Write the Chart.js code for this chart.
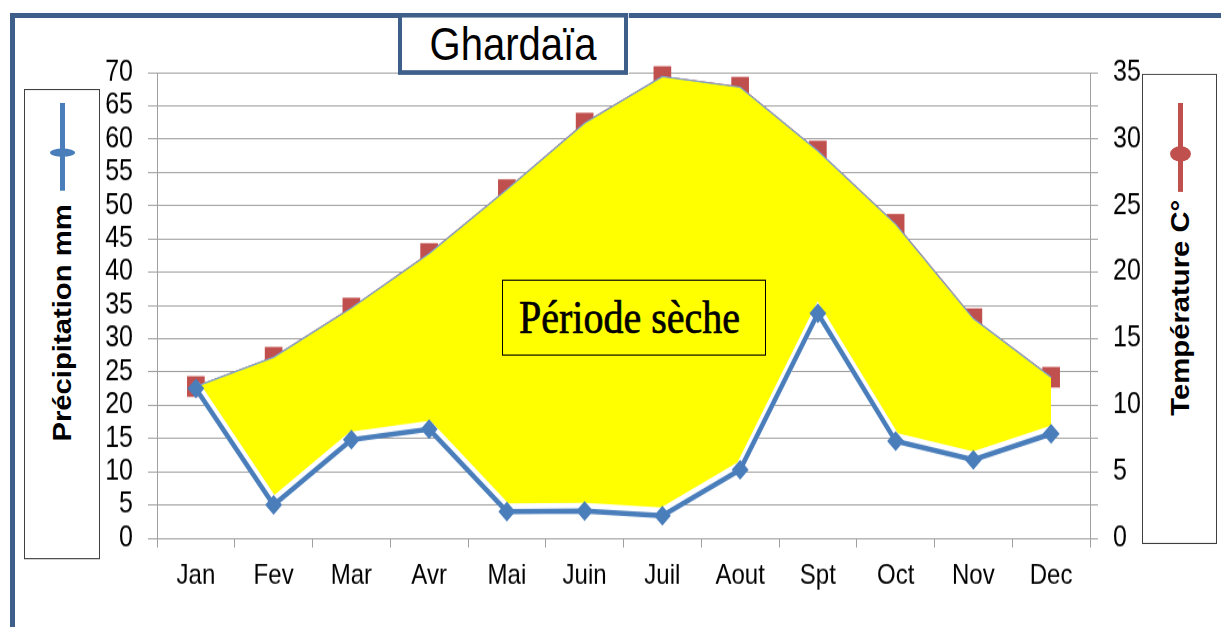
<!DOCTYPE html>
<html><head><meta charset="utf-8">
<script src="https://cdn.jsdelivr.net/npm/chart.js@4"></script>
<style>
html,body{margin:0;padding:0;background:#fff;overflow:hidden;width:1221px;height:627px;}
#frame{position:absolute;left:10px;top:13px;width:2000px;height:2000px;border-left:5px solid #3e5f8a;border-top:5px solid #3e5f8a;box-sizing:border-box;}
#stage{position:absolute;left:0;top:0;width:1221px;height:536px;transform:scaleY(1.17);transform-origin:0 0;}
#stage canvas{position:absolute;left:0;top:0;}
.abs{position:absolute;box-sizing:border-box;}
#title{left:398px;top:11px;width:230px;height:53px;border:4px solid #3e5f8a;background:#fff;font:40px "Liberation Sans",Arial,sans-serif;color:#000;display:flex;align-items:center;justify-content:center;}
.legend{background:#fff;border:1px solid #404040;}
.vtext{position:absolute;white-space:nowrap;font:bold 25px "Liberation Sans",Arial,sans-serif;color:#000;transform:translate(-50%,-50%) rotate(-90deg);}
#dry{left:502px;top:238.5px;width:264px;height:65px;border:1px solid #000;background:#ffff00;font:40px "Liberation Serif","Times New Roman",serif;-webkit-text-stroke:0.6px #000;color:#000;display:flex;align-items:center;justify-content:center;padding-right:9px;}
</style>
</head><body>
<div id="frame"></div>
<div id="stage">
  <canvas id="c" width="1221" height="536"></canvas>
  <div id="title" class="abs">Ghardaïa</div>
  <div class="abs legend" style="left:24px;top:76px;width:76px;height:402px;"></div>
  <div class="abs" style="left:60px;top:88px;width:4.5px;height:75px;background:#4a7ebb;"></div>
  <div class="abs" style="left:49.5px;top:126.6px;width:25px;height:7px;border-radius:50%;background:#4a7ebb;"></div>
  <div class="vtext" style="left:62px;top:276px;">Précipitation mm</div>
  <div class="abs legend" style="left:1142px;top:63px;width:75px;height:402px;"></div>
  <div class="abs" style="left:1177.5px;top:88px;width:5px;height:76px;background:#c0504d;"></div>
  <div class="abs" style="left:1169.5px;top:124.6px;width:21px;height:13px;border-radius:50%;background:#c0504d;"></div>
  <div class="vtext" style="left:1180px;top:263px;">Température C°</div>
  <div id="dry" class="abs">Période sèche</div>
</div>
<script>
const months = ['Jan','Fev','Mar','Avr','Mai','Juin','Juil','Aout','Spt','Oct','Nov','Dec'];
const precipitation = [22.5, 5, 14.8, 16.4, 4, 4.1, 3.4, 10.3, 33.8, 14.6, 11.8, 15.7];
const temperature = [11.4, 13.6, 17.3, 21.4, 26.2, 31.2, 34.7, 33.9, 29.1, 23.6, 16.5, 12.1];
const precipAxis = {min: 0, max: 70, step: 5};
const tempAxis = {min: 0, max: 35, step: 5};

const GRID = '#a0a0a0';
const FONT = '"Liberation Sans", Arial, sans-serif';

// shifts the white halo slightly upward so the gap sits only above the precipitation line
const haloShift = {
  id: 'haloShift',
  beforeDatasetDraw(chart, args) {
    if (args.index === 2) { chart.ctx.save(); chart.ctx.translate(0, -3); }
  },
  afterDatasetDraw(chart, args) {
    if (args.index === 2) { chart.ctx.restore(); }
  }
};

new Chart(document.getElementById('c'), {
  type: 'line',
  data: {
    labels: months,
    datasets: [
      {label: 'Température C°', data: temperature, yAxisID: 'y2', borderColor: '#c0504d', borderWidth: 1.5,
       pointStyle: 'rect', pointRadius: 12.5, pointBackgroundColor: '#c0504d', pointBorderWidth: 0,
       fill: false, order: 4, clip: false},
      {label: 'Période sèche', data: temperature, yAxisID: 'y2', borderColor: '#7aa3d4', borderWidth: 1.2,
       pointRadius: 0, backgroundColor: '#ffff00', fill: 3, order: 3},
      {label: 'halo', data: precipitation, yAxisID: 'y', borderColor: '#ffffff', borderWidth: 8,
       pointRadius: 0, fill: false, order: 2},
      {label: 'Précipitation mm', data: precipitation, yAxisID: 'y', borderColor: '#4a7ebb', borderWidth: 4.5,
       pointStyle: 'rectRot', pointRadius: 8.5, pointBackgroundColor: '#4a7ebb', pointBorderWidth: 0,
       fill: false, order: 1, clip: false}
    ]
  },
  plugins: [haloShift],
  options: {
    responsive: false,
    animation: false,
    events: [],
    layout: {padding: {top: 62, left: 0, right: 0, bottom: 0}},
    plugins: {legend: {display: false}, tooltip: {enabled: false}, title: {display: false}},
    scales: {
      x: {
        offset: true,
        grid: {offset: true, drawOnChartArea: false, tickLength: 8, color: GRID},
        border: {color: GRID},
        ticks: {font: {family: FONT, size: 24}, color: '#000', padding: 10, maxRotation: 0, autoSkip: false},
        afterFit: s => { s.height = 76; }
      },
      y: {
        position: 'left',
        min: precipAxis.min, max: precipAxis.max,
        grid: {color: GRID, tickLength: 9},
        border: {color: GRID},
        ticks: {stepSize: precipAxis.step, font: {family: FONT, size: 25}, color: '#000', padding: 15, autoSkip: false},
        afterFit: s => { s.width = 157; }
      },
      y2: {
        position: 'right',
        min: tempAxis.min, max: tempAxis.max,
        grid: {drawOnChartArea: false, color: GRID, tickLength: 8},
        border: {color: GRID},
        ticks: {stepSize: tempAxis.step / 2, font: {family: FONT, size: 25}, color: '#000', padding: 15, autoSkip: false,
                callback: v => (v % tempAxis.step === 0 ? String(v) : '')},
        afterFit: s => { s.width = 131; }
      }
    }
  }
});
</script>
</body></html>
